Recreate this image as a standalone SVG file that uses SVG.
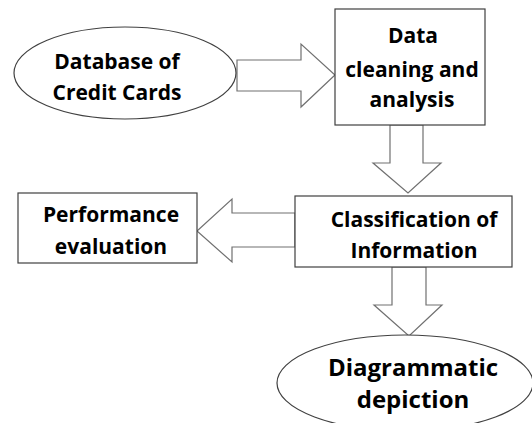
<svg xmlns="http://www.w3.org/2000/svg" width="532" height="423" viewBox="0 0 532 423">
  <style>
    .shape { fill: #ffffff; stroke: #404040; stroke-width: 1.2; }
    .arrow { fill: #ffffff; stroke: #707070; stroke-width: 1.2; stroke-linejoin: miter; }
    .label { font-family: "Open Sans", "DejaVu Sans", sans-serif; font-weight: bold; font-size: 21px; fill: #000000; text-anchor: middle; }
    .big { font-size: 24px; }
  </style>
  <rect width="532" height="423" fill="#ffffff"/>

  <g id="connectors">
    <polygon class="arrow" points="237,60 301,60 301,44 335,75 301,107 301,91 237,91"/>
    <polygon class="arrow" points="390,125 423,125 423,163 441,163 408,193 373,163 390,163"/>
    <polygon class="arrow" points="295,213 232,213 232,199 197,231 232,262 232,247 295,247"/>
    <polygon class="arrow" points="392,267 426,267 426,305 442,305 409,336 374,305 392,305"/>
  </g>

  <g id="database">
    <ellipse class="shape" cx="125" cy="73" rx="111" ry="46"/>
    <text class="label" x="117" y="69">Database of</text>
    <text class="label" x="117" y="100">Credit Cards</text>
  </g>

  <g id="cleaning">
    <rect class="shape" x="335" y="9" width="150" height="116"/>
    <text class="label" x="413" y="43">Data</text>
    <text class="label" x="412" y="77">cleaning and</text>
    <text class="label" x="412" y="107">analysis</text>
  </g>

  <g id="classification">
    <rect class="shape" x="295" y="196" width="217" height="71"/>
    <text class="label" x="414" y="227">Classification of</text>
    <text class="label" x="414" y="258">Information</text>
  </g>

  <g id="performance">
    <rect class="shape" x="18" y="193" width="179" height="70"/>
    <text class="label" x="111" y="222">Performance</text>
    <text class="label" x="111" y="254">evaluation</text>
  </g>

  <g id="depiction">
    <ellipse class="shape" cx="405" cy="383" rx="128" ry="48"/>
    <text class="label big" x="413" y="376">Diagrammatic</text>
    <text class="label big" x="413" y="408">depiction</text>
  </g>
</svg>
